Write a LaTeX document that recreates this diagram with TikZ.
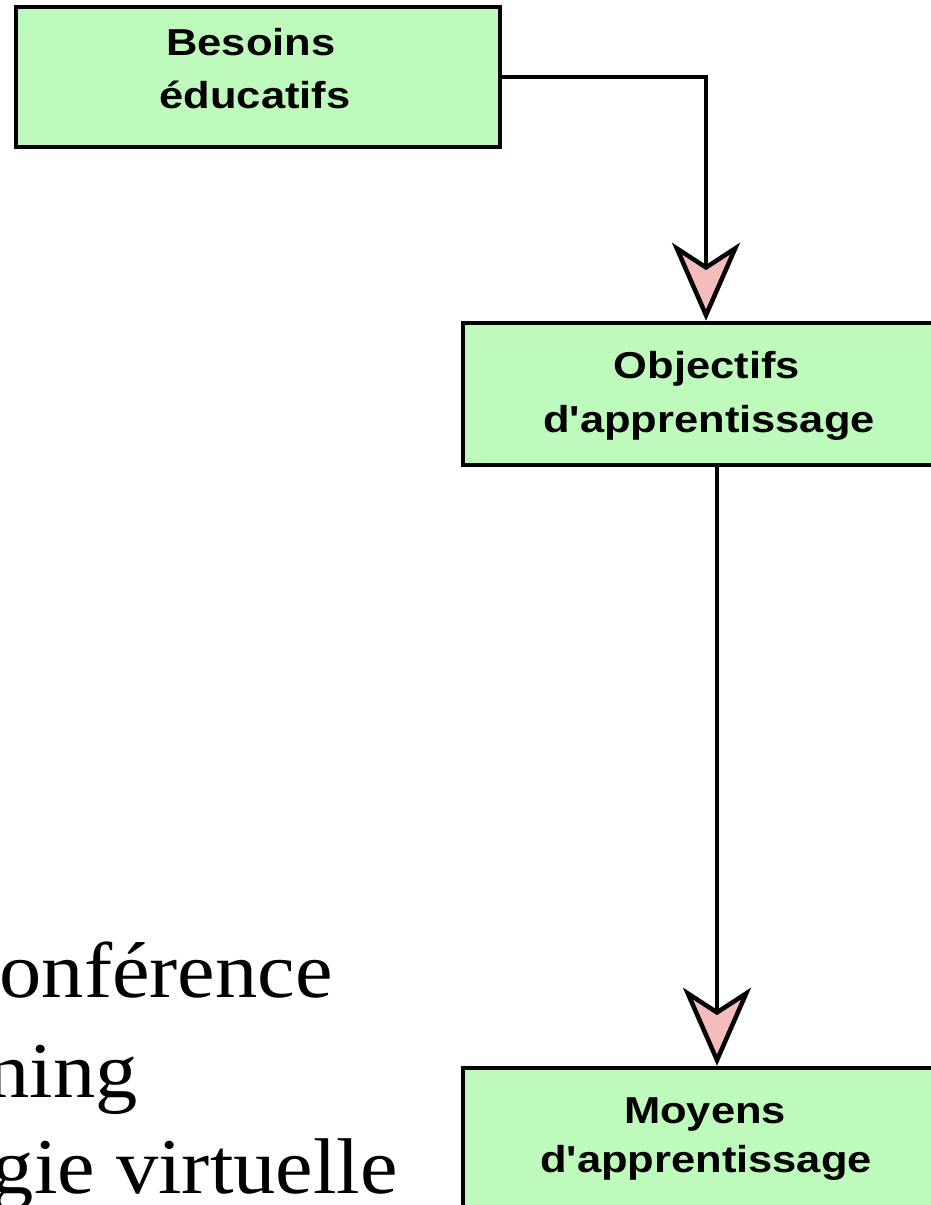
\documentclass[tikz,border=0pt]{standalone}
\usepackage{fontspec}
\usetikzlibrary{arrows.meta}
\newfontfamily\boxfont{Liberation Sans}[FakeStretch=1.16]
\newfontfamily\serfont{Liberation Serif}[FakeStretch=1.07]
\definecolor{boxgreen}{RGB}{191,250,189}
\definecolor{tippink}{RGB}{245,188,188}
\begin{document}
\begin{tikzpicture}[x=1pt,y=-1pt,
  greenbox/.style={draw=black, fill=boxgreen, line width=4.5pt, inner sep=0pt},
  boxtext/.style={font=\boxfont\bfseries\fontsize{37.5}{40}\selectfont, inner sep=0pt, anchor=base},
  bigtext/.style={font=\serfont\fontsize{79}{90}\selectfont, inner sep=0pt, anchor=base east},
  flow/.style={draw=black, line width=4.5pt,
    -{Stealth[length=78pt, width=68pt, inset=22pt, fill=tippink]}}]
\useasboundingbox (0,0) rectangle (931,1205);
\clip (0,0) rectangle (931,1205);
% boxes
\node[greenbox, minimum width=484pt, minimum height=140pt] (b1) at (258,77) {};
\node[greenbox, minimum width=490pt, minimum height=142pt] (b2) at (708,394) {};
\node[greenbox, minimum width=490pt, minimum height=160pt] (b3) at (708,1148) {};
% box texts
\node[boxtext] (t1a) at (251,55) {Besoins};
\node[boxtext] (t1b) at (255,108) {éducatifs};
\node[boxtext] (t2a) at (707,378) {Objectifs};
\node[boxtext] (t2b) at (709,432) {d'apprentissage};
\node[boxtext] (t3a) at (705,1123) {Moyens};
\node[boxtext] (t3b) at (706,1172) {d'apprentissage};
% cut-off serif text
\node[bigtext] (s1) at (333,997) {onférence};
\node[bigtext] (s2) at (138,1097) {ning};
\node[bigtext] (s3) at (398,1193) {gie virtuelle};
% connectors
\coordinate (x1) at (706,0);
\coordinate (x2) at (717,0);
\draw[flow] (b1.east) -| (b2.north -| x1);
\draw[flow] (b2.south -| x2) -- (b3.north -| x2);
\end{tikzpicture}
\end{document}
